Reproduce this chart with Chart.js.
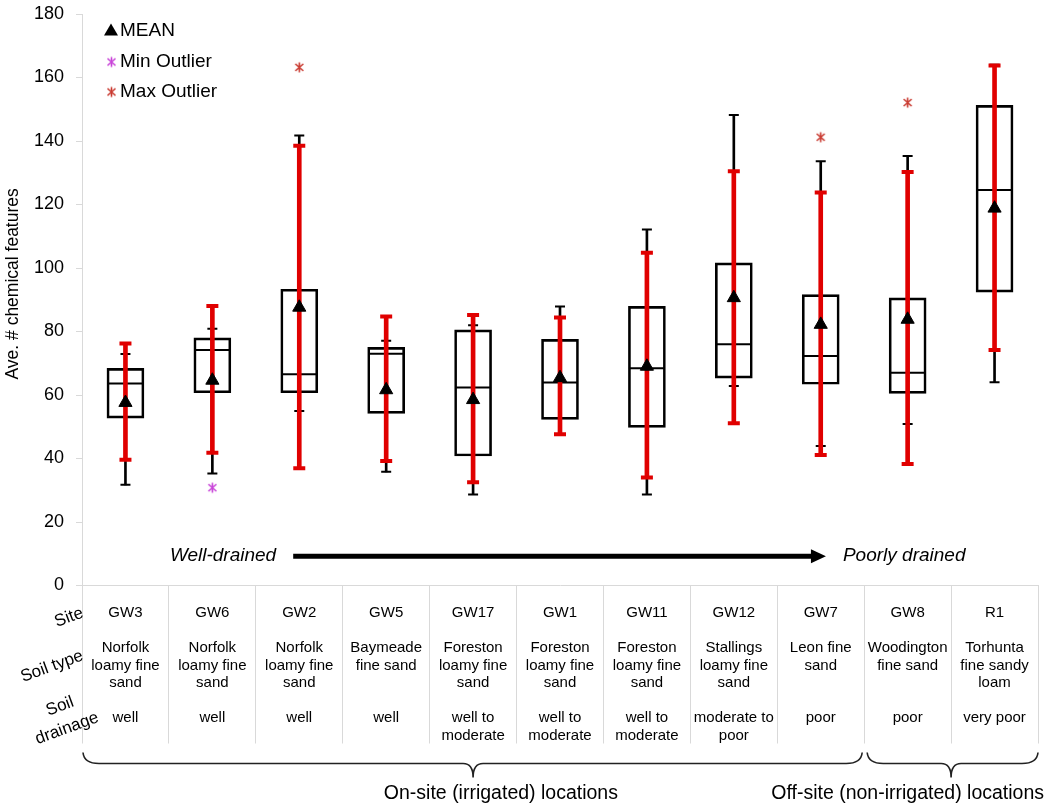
<!DOCTYPE html>
<html>
<head>
<meta charset="utf-8">
<script src="https://cdn.jsdelivr.net/npm/chart.js@4.4.1/dist/chart.umd.min.js"></script>
<style>
  html, body { margin: 0; padding: 0; background: #fff; }
  #wrap { width: 1050px; height: 806px; }
</style>
</head>
<body>
<div id="wrap"><canvas id="chart"></canvas></div>
<script>
// categories and table text
const sites = ["GW3", "GW6", "GW2", "GW5", "GW17", "GW1", "GW11", "GW12", "GW7", "GW8", "R1"];
const soilTypes = [
  ["Norfolk", "loamy fine", "sand"],
  ["Norfolk", "loamy fine", "sand"],
  ["Norfolk", "loamy fine", "sand"],
  ["Baymeade", "fine sand"],
  ["Foreston", "loamy fine", "sand"],
  ["Foreston", "loamy fine", "sand"],
  ["Foreston", "loamy fine", "sand"],
  ["Stallings", "loamy fine", "sand"],
  ["Leon fine", "sand"],
  ["Woodington", "fine sand"],
  ["Torhunta", "fine sandy", "loam"]
];
const drainage = [
  ["well"], ["well"], ["well"], ["well"],
  ["well to", "moderate"], ["well to", "moderate"], ["well to", "moderate"],
  ["moderate to", "poor"], ["poor"], ["poor"], ["very poor"]
];

// box statistics
const q1 =      [52.7, 60.7, 60.7, 54.2, 40.8, 52.3, 49.8, 65.3, 63.4, 60.5, 92.4];
const q3 =      [68.4, 78.0, 93.3, 75.0, 80.5, 77.5, 87.9, 101.6, 91.6, 90.6, 151.2];
const medians = [63.6, 74.2, 66.5, 73.0, 62.4, 63.9, 68.4, 76.0, 72.3, 67.0, 124.6];
const means =   [57.6, 64.6, 87.6, 61.6, 58.5, 65.4, 69.0, 90.6, 82.2, 83.8, 118.8];
const mins =    [31.7, 35.3, 55.0, 35.8, 28.7, 47.6, 28.7, 62.8, 43.9, 50.9, 64.0];
const maxs =    [72.9, 80.9, 141.7, 77.1, 82.0, 87.9, 112.1, 148.2, 133.6, 135.3, 164.0];
const sdLow =   [39.6, 41.8, 36.9, 39.2, 32.5, 47.6, 34.0, 51.1, 41.1, 38.3, 74.2];
const sdHigh =  [76.2, 88.0, 138.5, 84.7, 85.2, 84.4, 104.8, 130.5, 123.8, 130.2, 163.8];
const minOutliers = [null, 30.8, null, null, null, null, null, null, null, null, null];
const maxOutliers = [null, null, 163.2, null, null, null, null, null, 141.2, 152.1, null];

const yTicks = [0, 20, 40, 60, 80, 100, 120, 140, 160, 180];

const FONT = "'Liberation Sans', Arial, sans-serif";
const RED = "#e00000";
const MIN_COL = "#c844d8";
const MAX_COL = "#c93a30";

function pad(arr, n) {
  const out = arr.slice();
  while (out.length < n) out.push("");
  return out;
}

// Excel-like star marker: X with a vertical stroke
function asterisk(color) {
  const c = document.createElement("canvas");
  c.width = 13; c.height = 13;
  const g = c.getContext("2d");
  g.strokeStyle = color;
  g.lineWidth = 1.6;
  g.beginPath();
  g.moveTo(2.5, 3); g.lineTo(10.5, 10);
  g.moveTo(10.5, 3); g.lineTo(2.5, 10);
  g.moveTo(6.5, 1.5); g.lineTo(6.5, 11.5);
  g.stroke();
  return c;
}
const minStar = asterisk(MIN_COL);
const maxStar = asterisk(MAX_COL);

const tableLabels = sites.map((s, i) => [s, "", ...pad(soilTypes[i], 3), "", ...pad(drainage[i], 2)]);

function points(values, style, radius, width, color, order) {
  return {
    type: "line",
    data: values,
    showLine: false,
    order: order,
    pointStyle: style,
    pointRadius: radius,
    pointBorderWidth: width,
    pointBorderColor: color,
    pointBackgroundColor: color,
    pointHoverRadius: radius
  };
}

const overlay = {
  id: "overlay",
  afterDraw(chart) {
    const { ctx, chartArea, scales } = chart;
    const x = scales.x, y = scales.y;
    const colW = x.getPixelForValue(1) - x.getPixelForValue(0);
    ctx.save();
    ctx.fillStyle = "#000";
    ctx.strokeStyle = "#000";

    // y axis title (sits a little above the axis centre in the original)
    ctx.save();
    ctx.font = "17.5px " + FONT;
    ctx.textAlign = "center";
    ctx.textBaseline = "middle";
    ctx.translate(13, y.getPixelForValue(95));
    ctx.rotate(-Math.PI / 2);
    ctx.fillText("Ave. # chemical features", 0, 0);
    ctx.restore();

    // legend
    const lx = chartArea.left + 29;
    ctx.font = "19px " + FONT;
    ctx.textBaseline = "middle";
    ctx.textAlign = "left";
    ctx.beginPath();
    ctx.moveTo(lx, 31 - 7.5);
    ctx.lineTo(lx + 7, 31 + 4.5);
    ctx.lineTo(lx - 7, 31 + 4.5);
    ctx.closePath();
    ctx.fill();
    ctx.fillText("MEAN", lx + 9, 31);
    ctx.drawImage(minStar, lx - 6, 62 - 6.5);
    ctx.fillText("Min Outlier", lx + 9, 62);
    ctx.drawImage(maxStar, lx - 6, 92 - 6.5);
    ctx.fillText("Max Outlier", lx + 9, 92);

    // drainage arrow
    const ay = y.getPixelForValue(9.2);
    const ax1 = x.getPixelForValue(1.93);
    const ax2 = x.getPixelForValue(8.06);
    ctx.lineWidth = 5;
    ctx.beginPath();
    ctx.moveTo(ax1, ay);
    ctx.lineTo(ax2 - 14, ay);
    ctx.stroke();
    ctx.beginPath();
    ctx.moveTo(ax2, ay);
    ctx.lineTo(ax2 - 15, ay - 7);
    ctx.lineTo(ax2 - 15, ay + 7);
    ctx.closePath();
    ctx.fill();
    ctx.font = "italic 19px " + FONT;
    ctx.textAlign = "right";
    ctx.fillText("Well-drained", ax1 - 17, ay - 1);
    ctx.textAlign = "left";
    ctx.fillText("Poorly drained", ax2 + 17, ay - 1);

    // row headers of the table
    const base = chartArea.bottom;
    const left = chartArea.left;
    ctx.font = "17px " + FONT;
    ctx.textAlign = "center";
    const rowHeads = [["Site", -13, 32], ["Soil type", -30, 81], ["Soil", -22, 121], ["drainage", -15, 143]];
    rowHeads.forEach(([t, dx, dy]) => {
      ctx.save();
      ctx.translate(left + dx, base + dy);
      ctx.rotate(-20 * Math.PI / 180);
      ctx.fillText(t, 0, 0);
      ctx.restore();
    });

    // braces
    function brace(x1, x2, xm, yTop) {
      const yMid = yTop + 11, yTip = yTop + 25;
      ctx.beginPath();
      ctx.moveTo(x1, yTop);
      ctx.quadraticCurveTo(x1 + 1, yMid, x1 + 16, yMid);
      ctx.lineTo(xm - 10, yMid);
      ctx.quadraticCurveTo(xm, yMid, xm, yTip);
      ctx.quadraticCurveTo(xm, yMid, xm + 10, yMid);
      ctx.lineTo(x2 - 16, yMid);
      ctx.quadraticCurveTo(x2 - 1, yMid, x2, yTop);
      ctx.stroke();
    }
    ctx.lineWidth = 1.6;
    ctx.strokeStyle = "#222";
    const split = x.getPixelForValue(8) + colW / 2;
    const leftEdge = x.getPixelForValue(0) - colW / 2;
    const rightEdge = x.getPixelForValue(10) + colW / 2;
    brace(leftEdge + 1, split - 2, (leftEdge + split) / 2, base + 167);
    brace(split + 3, rightEdge, (split + rightEdge) / 2, base + 167);

    ctx.font = "19.5px " + FONT;
    ctx.fillStyle = "#000";
    ctx.textAlign = "center";
    ctx.fillText("On-site (irrigated) locations", x.getPixelForValue(4.32), base + 208);
    ctx.fillText("Off-site (non-irrigated) locations", x.getPixelForValue(9.0), base + 208);
    ctx.restore();
  }
};

new Chart(document.getElementById("chart"), {
  type: "bar",
  data: {
    labels: tableLabels,
    datasets: [
      {
        label: "IQR box",
        data: q1.map((v, i) => [v, q3[i]]),
        backgroundColor: "rgba(0,0,0,0)",
        borderColor: "#000",
        borderWidth: 2,
        borderSkipped: false,
        barThickness: 37,
        grouped: false,
        order: 7
      },
      points(medians, "line", 18, 2, "#000", 6),
      {
        label: "Range",
        data: mins.map((v, i) => [v, maxs[i]]),
        backgroundColor: "#000",
        borderWidth: 0,
        barThickness: 2,
        grouped: false,
        order: 5
      },
      points(mins, "line", 5, 2, "#000", 4),
      points(maxs, "line", 5, 2, "#000", 4),
      {
        label: "SD",
        data: sdLow.map((v, i) => [v, sdHigh[i]]),
        backgroundColor: RED,
        borderWidth: 0,
        barThickness: 4,
        grouped: false,
        order: 3
      },
      points(sdLow, "line", 6, 4, RED, 2),
      points(sdHigh, "line", 6, 4, RED, 2),
      points(means, "triangle", 7.6, 1, "#000", 1),
      points(minOutliers, minStar, 6, 1, MIN_COL, 1),
      points(maxOutliers, maxStar, 6, 1, MAX_COL, 1)
    ]
  },
  options: {
    responsive: true,
    maintainAspectRatio: false,
    animation: false,
    layout: { autoPadding: false, padding: { top: 14, right: 12, left: 0, bottom: 0 } },
    plugins: {
      legend: { display: false },
      tooltip: { enabled: false }
    },
    scales: {
      x: {
        offset: true,
        border: { color: "#d9d9d9", width: 1 },
        grid: {
          offset: true,
          drawOnChartArea: false,
          tickLength: 158,
          color: "#d9d9d9"
        },
        ticks: {
          autoSkip: false,
          maxRotation: 0,
          padding: -139,
          color: "#000",
          font: { family: FONT, size: 15, lineHeight: 1.1667 }
        },
        afterFit(scale) {
          scale.height = 220.5;
          scale.paddingLeft = 0;
          scale.paddingRight = 0;
        }
      },
      y: {
        min: 0,
        max: 180,
        afterBuildTicks(scale) { scale.ticks = yTicks.map(v => ({ value: v })); },
        border: { color: "#d9d9d9", width: 1 },
        grid: { drawOnChartArea: false, tickLength: 6, color: "#d9d9d9" },
        ticks: { padding: 12, color: "#000", font: { family: FONT, size: 18 } },
        afterFit(scale) {
          scale.width = 82;
          scale.paddingTop = 0;
          scale.paddingBottom = 0;
        }
      }
    }
  },
  plugins: [overlay]
});
</script>
</body>
</html>
